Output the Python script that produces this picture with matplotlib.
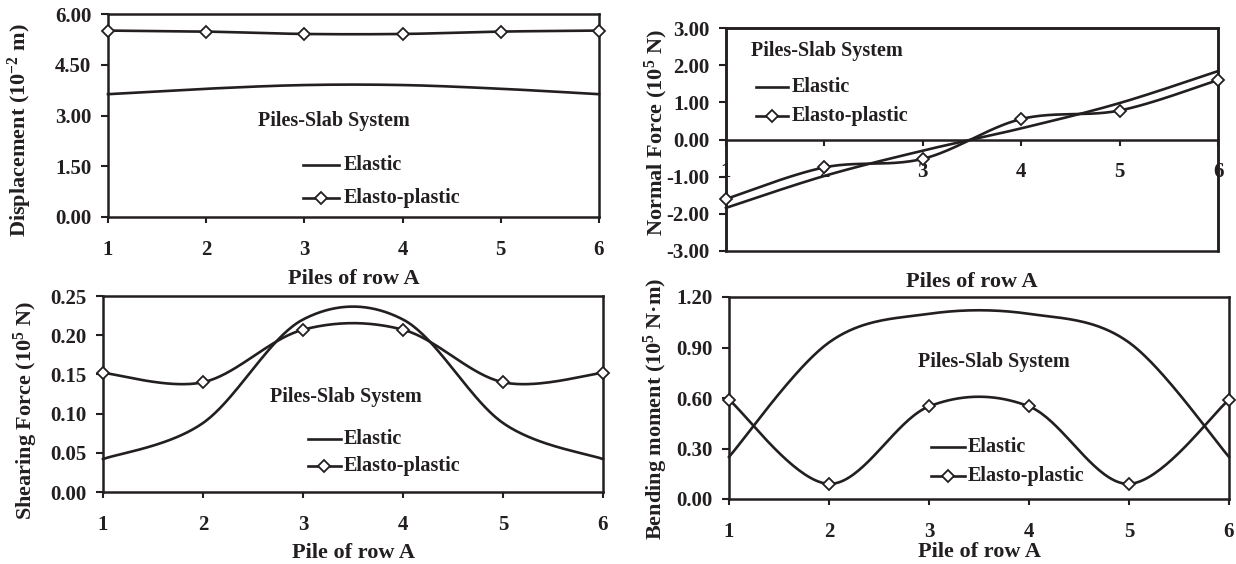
import numpy as np
import matplotlib
matplotlib.use("Agg")
import matplotlib.pyplot as plt
from matplotlib.patches import Rectangle

# ---------------- data ----------------
piles = [1, 2, 3, 4, 5, 6]

disp_elastic = [3.63, 3.79, 3.90, 3.90, 3.79, 3.63]
disp_plastic = [5.51, 5.48, 5.41, 5.41, 5.48, 5.51]

normal_elastic = [-1.84, -0.98, -0.30, 0.30, 0.98, 1.84]
normal_plastic = [-1.60, -0.75, -0.52, 0.55, 0.78, 1.60]

shear_elastic = [0.042, 0.088, 0.220, 0.220, 0.088, 0.042]
shear_plastic = [0.152, 0.140, 0.207, 0.207, 0.140, 0.152]

bend_elastic = [0.25, 0.93, 1.10, 1.10, 0.93, 0.25]
bend_plastic = [0.59, 0.09, 0.55, 0.55, 0.09, 0.59]

disp_ticks = [0.0, 1.5, 3.0, 4.5, 6.0]
normal_ticks = [-3.0, -2.0, -1.0, 0.0, 1.0, 2.0, 3.0]
shear_ticks = [0.0, 0.05, 0.10, 0.15, 0.20, 0.25]
bend_ticks = [0.0, 0.3, 0.6, 0.9, 1.2]

label_elastic = "Elastic"
label_plastic = "Elasto-plastic"
system_text = "Piles-Slab System"

# ---------------- style ----------------
INK = "#231f20"
plt.rcParams["font.family"] = ["Liberation Serif", "DejaVu Serif"]
plt.rcParams["font.weight"] = "bold"
plt.rcParams["axes.labelweight"] = "bold"
plt.rcParams["axes.unicode_minus"] = False
plt.rcParams["mathtext.fontset"] = "custom"
plt.rcParams["mathtext.rm"] = "Liberation Serif:bold"
plt.rcParams["mathtext.bf"] = "Liberation Serif:bold"
plt.rcParams["mathtext.it"] = "Liberation Serif:bold"
plt.rcParams["mathtext.default"] = "regular"

TICK_FS = 15
LABEL_FS = 16
TEXT_FS = 14.5
LW = 1.9
MS = 6


def smooth(xs, ys, n=40):
    """Excel-style smoothed line (Catmull-Rom / cubic Bezier) through the points."""
    P = np.column_stack([xs, ys]).astype(float)
    out = []
    m = len(P)
    for i in range(m - 1):
        p0 = P[i - 1] if i > 0 else P[i]
        p1 = P[i]
        p2 = P[i + 1]
        p3 = P[i + 2] if i + 2 < m else P[i + 1]
        b1 = p1 + (p2 - p0) / 6.0
        b2 = p2 - (p3 - p1) / 6.0
        t = np.linspace(0, 1, n, endpoint=(i == m - 2))[:, None]
        seg = ((1 - t) ** 3) * p1 + 3 * ((1 - t) ** 2) * t * b1 + 3 * (1 - t) * t ** 2 * b2 + t ** 3 * p2
        out.append(seg)
    s = np.vstack(out)
    return s[:, 0], s[:, 1]


def draw_series(ax, ye, yp):
    xe, se = smooth(piles, ye)
    ax.plot(xe, se, color=INK, lw=LW, clip_on=False, zorder=3)
    xp, sp = smooth(piles, yp)
    ax.plot(xp, sp, color=INK, lw=LW, clip_on=False, zorder=3)
    ax.plot(piles, yp, linestyle="none", marker="D", markersize=MS,
            markerfacecolor="white", markeredgecolor=INK, markeredgewidth=1.3,
            clip_on=False, zorder=6)


def draw_legend(ax, hx0, hx1, tx, y1, y2):
    tr = ax.transAxes
    ax.plot([hx0, hx1], [y1, y1], transform=tr, color=INK, lw=LW, clip_on=False)
    ax.plot([hx0, hx1], [y2, y2], transform=tr, color=INK, lw=LW, clip_on=False)
    ax.plot([(hx0 + hx1) / 2], [y2], transform=tr, marker="D", markersize=MS,
            markerfacecolor="white", markeredgecolor=INK, markeredgewidth=1.3,
            clip_on=False)
    ax.text(tx, y1, label_elastic, transform=tr, ha="left", va="center",
            fontsize=TEXT_FS, color=INK)
    ax.text(tx, y2, label_plastic, transform=tr, ha="left", va="center",
            fontsize=TEXT_FS, color=INK)


def style_axes(ax, yticks):
    ax.set_xlim(1, 6)
    ax.set_ylim(yticks[0], yticks[-1])
    ax.set_xticks(piles)
    ax.set_xticklabels([str(p) for p in piles])
    ax.set_yticks(yticks)
    ax.set_yticklabels(["%.2f" % v for v in yticks])
    for s in ax.spines.values():
        s.set_linewidth(1.8)
        s.set_color(INK)
    ax.tick_params(axis="y", direction="out", length=5, width=1.5, pad=7,
                   labelsize=TICK_FS, colors=INK)
    ax.tick_params(axis="x", direction="out", length=4.5, width=1.5, pad=12,
                   labelsize=TICK_FS, colors=INK)
    ax.set_facecolor("white")


def px_axes(fig, l, t, r, b):
    W, H = 1236.0, 564.0
    return fig.add_axes([l / W, (H - b) / H, (r - l) / W, (b - t) / H])


def set_labels(ax, xlabel, ylabel, xly, ylx, yly):
    ax.set_xlabel(xlabel, fontsize=LABEL_FS, color=INK, fontweight="bold")
    ax.set_ylabel(ylabel, fontsize=LABEL_FS, color=INK, fontweight="bold")
    ax.xaxis.label.set_va("center")
    ax.yaxis.label.set_va("center")
    ax.xaxis.set_label_coords(0.5, xly)
    ax.yaxis.set_label_coords(ylx, yly)


fig = plt.figure(figsize=(12.36, 5.64), dpi=100)
fig.patch.set_facecolor("white")

# ---- Panel 1: displacement ----
ax1 = px_axes(fig, 108, 14, 599, 217)
style_axes(ax1, disp_ticks)
draw_series(ax1, disp_elastic, disp_plastic)
ax1.text(0.46, 0.475, system_text, transform=ax1.transAxes, ha="center",
         va="center", fontsize=TEXT_FS, color=INK)
draw_legend(ax1, 0.397, 0.471, 0.479, 0.255, 0.095)
set_labels(ax1, "Piles of row A", r"Displacement (10$^{-2}$ m)", -0.305, -0.18, 0.43)

# ---- Panel 2: normal force ----
ax2 = px_axes(fig, 726, 28, 1218, 251)
style_axes(ax2, normal_ticks)
ax2.spines["bottom"].set_position(("data", 0))
ax2.add_patch(Rectangle((0, 0), 1, 1, transform=ax2.transAxes, fill=False,
                        lw=1.8, edgecolor=INK, clip_on=False, zorder=2))
draw_series(ax2, normal_elastic, normal_plastic)
ax2.text(0.05, 0.897, system_text, transform=ax2.transAxes, ha="left",
         va="center", fontsize=TEXT_FS, color=INK)
draw_legend(ax2, 0.06, 0.125, 0.133, 0.735, 0.605)
set_labels(ax2, "Piles of row A", r"Normal Force (10$^{5}$ N)", -0.139, -0.142, 0.53)

# ---- Panel 3: shearing force ----
ax3 = px_axes(fig, 103, 296, 603, 492)
style_axes(ax3, shear_ticks)
draw_series(ax3, shear_elastic, shear_plastic)
ax3.text(0.486, 0.485, system_text, transform=ax3.transAxes, ha="center",
         va="center", fontsize=TEXT_FS, color=INK)
draw_legend(ax3, 0.41, 0.475, 0.481, 0.27, 0.133)
set_labels(ax3, "Pile of row A", r"Shearing Force (10$^{5}$ N)", -0.311, -0.155, 0.418)

# ---- Panel 4: bending moment ----
ax4 = px_axes(fig, 729, 297, 1229, 499)
style_axes(ax4, bend_ticks)
draw_series(ax4, bend_elastic, bend_plastic)
ax4.text(0.53, 0.678, system_text, transform=ax4.transAxes, ha="center",
         va="center", fontsize=TEXT_FS, color=INK)
draw_legend(ax4, 0.403, 0.471, 0.477, 0.257, 0.114)
set_labels(ax4, "Pile of row A", r"Bending moment (10$^{5}$ N·m)", -0.26, -0.146, 0.446)

fig.savefig("out.png", dpi=100, facecolor="white")
